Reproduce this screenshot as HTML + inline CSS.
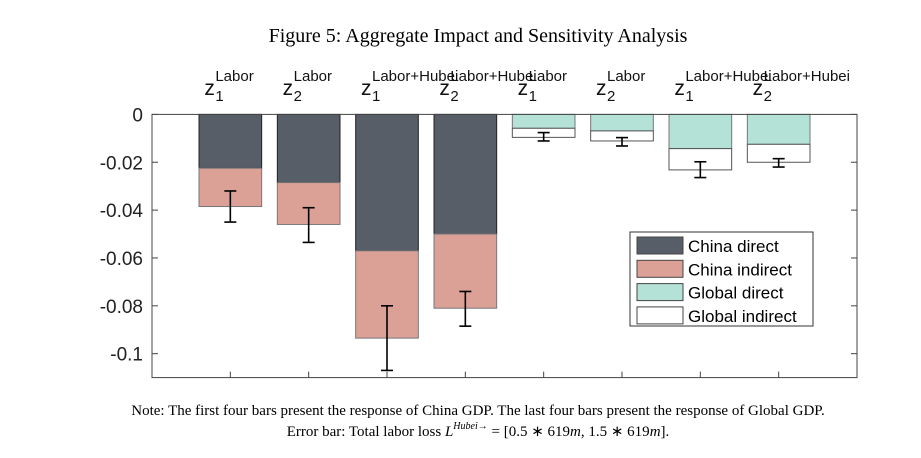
<!DOCTYPE html>
<html><head><meta charset="utf-8"><style>
body{margin:0;background:#fff;width:921px;height:453px;overflow:hidden}
svg text{font-family:"Liberation Sans",sans-serif}
.serif{font-family:"Liberation Serif",serif!important}
</style></head><body>
<svg id="chart" width="921" height="453" xmlns="http://www.w3.org/2000/svg"></svg>
<script>
const labels=[["1","Labor"],["2","Labor"],["1","Labor+Hubei"],["2","Labor+Hubei"],["1","Labor"],["2","Labor"],["1","Labor+Hubei"],["2","Labor+Hubei"]];
const chinaDirect=[-0.0225,-0.0285,-0.057,-0.050,0,0,0,0];
const chinaIndirect=[-0.016,-0.0175,-0.0365,-0.031,0,0,0,0];
const globalDirect=[0,0,0,0,-0.0058,-0.0069,-0.0143,-0.0125];
const globalIndirect=[0,0,0,0,-0.0038,-0.0042,-0.0089,-0.0075];
const errLow=[-0.045,-0.0535,-0.107,-0.0885,-0.0111,-0.0132,-0.0264,-0.022];
const errHigh=[-0.032,-0.039,-0.080,-0.074,-0.0076,-0.0097,-0.0198,-0.0185];
const yTicks=[0,-0.02,-0.04,-0.06,-0.08,-0.1];
const yTickLabels=["0","-0.02","-0.04","-0.06","-0.08","-0.1"];
const L=152,R=857,T=114.4,B=377.6;
const X=v=>L+v*(R-L)/9;
const Y=v=>T+(0-v)*(B-T)/0.11;
const svg=document.getElementById('chart');
const NS='http://www.w3.org/2000/svg';
function mk(tag,attrs,parent){const e=document.createElementNS(NS,tag);for(const k in attrs)e.setAttribute(k,attrs[k]);(parent||svg).appendChild(e);return e;}
let t=mk('text',{x:478,y:42,'font-size':20,'text-anchor':'middle',class:'serif',fill:'#000'});t.textContent='Figure 5: Aggregate Impact and Sensitivity Analysis';


const bw=0.8*(R-L)/9;
function bar(i,y0,y1,fill,stroke,name){const r=mk('rect',{x:X(i+1)-bw/2,y:Y(y0),width:bw,height:Math.max(0,Y(y1)-Y(y0)),fill:fill,stroke:stroke,'stroke-width':1});

}
for(let i=0;i<8;i++){
 if(i<4){bar(i,0,chinaDirect[i],'#575e67','#222','china-direct-bar');bar(i,chinaDirect[i],chinaDirect[i]+chinaIndirect[i],'#dba197','#777','china-indirect-bar');}
 else{bar(i,0,globalDirect[i],'#b5e2d6','#777','global-direct-bar');bar(i,globalDirect[i],globalDirect[i]+globalIndirect[i],'#fff','#555','global-indirect-bar');}
 const cx=X(i+1),g=mk('g',{stroke:'#000','stroke-width':1.6});
 
 
 mk('line',{x1:cx,x2:cx,y1:Y(errHigh[i]),y2:Y(errLow[i])},g);
 mk('line',{x1:cx-6,x2:cx+6,y1:Y(errHigh[i]),y2:Y(errHigh[i])},g);
 mk('line',{x1:cx-6,x2:cx+6,y1:Y(errLow[i]),y2:Y(errLow[i])},g);
 mk('line',{x1:cx,x2:cx,y1:B,y2:B-6,stroke:'#444'});
 const lg0=mk('g',{fill:'#111'});
 
 
 const x0=cx-26;
 mk('text',{x:x0,y:95,'font-size':21},lg0).textContent='z';
 mk('text',{x:x0+11,y:101,'font-size':15},lg0).textContent=labels[i][0];
 mk('text',{x:x0+11,y:81,'font-size':15},lg0).textContent=labels[i][1];
}
const ax=mk('rect',{x:L,y:T,width:R-L,height:B-T,fill:'none',stroke:'#444','stroke-width':1});


yTicks.forEach((v,k)=>{mk('line',{x1:L,x2:L+6,y1:Y(v),y2:Y(v),stroke:'#444'});mk('line',{x1:R,x2:R-6,y1:Y(v),y2:Y(v),stroke:'#444'});
 const tl=mk('text',{x:L-9,y:Y(v)+7,'font-size':19,'text-anchor':'end',fill:'#222'});tl.textContent=yTickLabels[k];
 
 });
const lg=mk('g',{});


mk('rect',{x:630,y:232,width:183,height:94,fill:'#fff',stroke:'#333'},lg);
const legendNames=['China direct','China indirect','Global direct','Global indirect'];
const legendFills=['#575e67','#dba197','#b5e2d6','#fff'];
legendNames.forEach((n,k)=>{const yy=237+k*23.3;
 mk('rect',{x:637,y:yy,width:46,height:17,fill:legendFills[k],stroke:'#444'},lg);
 const e=mk('text',{x:688,y:yy+15,'font-size':17,fill:'#000'},lg);e.textContent=n;
 
 });
let n1=mk('text',{x:478,y:415,'font-size':15,'text-anchor':'middle',class:'serif'});n1.textContent='Note: The first four bars present the response of China GDP. The last four bars present the response of Global GDP.';


let n2=mk('text',{x:478,y:436,'font-size':15,'text-anchor':'middle',class:'serif'});
n2.innerHTML='Error bar: Total labor loss <tspan font-style="italic">L</tspan><tspan font-size="10" dy="-7" font-style="italic">Hubei</tspan><tspan font-size="10">→</tspan><tspan dy="7"> = [0.5 ∗ 619</tspan><tspan font-style="italic">m</tspan><tspan>, 1.5 ∗ 619</tspan><tspan font-style="italic">m</tspan><tspan>].</tspan>';


</script>
</body></html>
